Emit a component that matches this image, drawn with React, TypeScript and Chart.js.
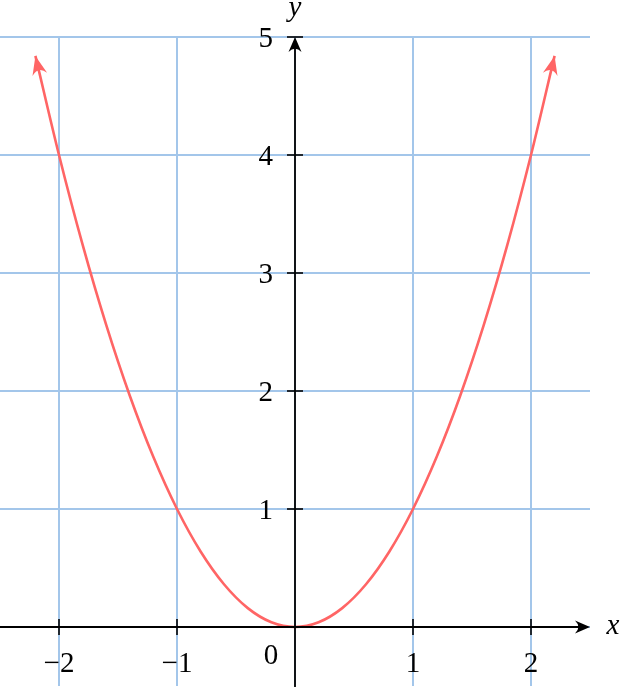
import React, { useEffect, useRef } from "react";
import { Chart, registerables } from "chart.js";

Chart.register(...registerables);

const curveX = [-2.2, -2, -1.8, -1.6, -1.4, -1.2, -1, -0.8, -0.6, -0.4, -0.2, 0, 0.2, 0.4, 0.6, 0.8, 1, 1.2, 1.4, 1.6, 1.8, 2, 2.2];
const curveY = [4.84, 4, 3.24, 2.56, 1.96, 1.44, 1, 0.64, 0.36, 0.16, 0.04, 0, 0.04, 0.16, 0.36, 0.64, 1, 1.44, 1.96, 2.56, 3.24, 4, 4.84];

const xGridValues = [-2, -1, 0, 1, 2];
const yGridValues = [0, 1, 2, 3, 4, 5];
const xTickValues = [-2, -1, 1, 2];
const xTickLabels = ["\u22122", "\u22121", "1", "2"];
const yTickValues = [1, 2, 3, 4, 5];
const yTickLabels = ["1", "2", "3", "4", "5"];
const originLabel = "0";
const xAxisLabel = "x";
const yAxisLabel = "y";

const X_MIN = -2.5, X_MAX = 2.5, Y_MIN = -0.5, Y_MAX = 5;

const GRID = "#a3c6ea";
const CURVE = "#ff6565";
const FONT = '"Liberation Serif", "Times New Roman", serif';

function stealth(ctx: CanvasRenderingContext2D, tx: number, ty: number, ang: number, len: number, half: number, color: string) {
  ctx.save();
  ctx.translate(tx, ty);
  ctx.rotate(ang);
  ctx.fillStyle = color;
  ctx.beginPath();
  ctx.moveTo(0, 0);
  ctx.lineTo(-len, -half);
  ctx.quadraticCurveTo(-len * 0.55, 0, -len, half);
  ctx.closePath();
  ctx.fill();
  ctx.restore();
}

const axesPlugin = {
  id: "axesPlugin",
  afterDatasetsDraw(chart: any) {
    const ctx: CanvasRenderingContext2D = chart.ctx;
    const xs = chart.scales.x, ys = chart.scales.y;
    const x0 = xs.getPixelForValue(0), y0 = ys.getPixelForValue(0);
    const left = xs.getPixelForValue(X_MIN), right = xs.getPixelForValue(X_MAX);
    const top = ys.getPixelForValue(Y_MAX), bottom = ys.getPixelForValue(Y_MIN);

    const meta = chart.getDatasetMeta(0);
    const pts = meta.data;
    if (pts.length > 1) {
      const a = pts[0], b = pts[1];
      stealth(ctx, a.x, a.y, Math.atan2(a.y - b.y, a.x - b.x), 19, 7.5, CURVE);
      const c = pts[pts.length - 1], d = pts[pts.length - 2];
      stealth(ctx, c.x, c.y, Math.atan2(c.y - d.y, c.x - d.x), 19, 7.5, CURVE);
    }

    ctx.save();
    ctx.strokeStyle = "#000";
    ctx.lineWidth = 1.8;
    ctx.lineCap = "butt";
    ctx.beginPath();
    ctx.moveTo(left, y0);
    ctx.lineTo(right - 6, y0);
    ctx.stroke();
    ctx.beginPath();
    ctx.moveTo(x0, bottom + 2);
    ctx.lineTo(x0, top + 6);
    ctx.stroke();
    stealth(ctx, right, y0, 0, 15, 6.5, "#000");
    stealth(ctx, x0, top, -Math.PI / 2, 15, 6.5, "#000");

    ctx.lineWidth = 1.6;
    xTickValues.forEach((v) => {
      const px = xs.getPixelForValue(v);
      ctx.beginPath();
      ctx.moveTo(px, y0 - 8);
      ctx.lineTo(px, y0 + 8);
      ctx.stroke();
    });
    yTickValues.forEach((v) => {
      const py = ys.getPixelForValue(v);
      ctx.beginPath();
      ctx.moveTo(x0 - 8, py);
      ctx.lineTo(x0 + 8, py);
      ctx.stroke();
    });

    ctx.fillStyle = "#000";
    ctx.font = `29px ${FONT}`;
    ctx.textAlign = "center";
    ctx.textBaseline = "alphabetic";
    xTickValues.forEach((v, i) => {
      ctx.fillText(xTickLabels[i], xs.getPixelForValue(v), y0 + 45);
    });
    ctx.textAlign = "right";
    yTickValues.forEach((v, i) => {
      ctx.fillText(yTickLabels[i], x0 - 22, ys.getPixelForValue(v) + 10);
    });
    ctx.textAlign = "center";
    ctx.fillText(originLabel, x0 - 24, y0 + 37);

    ctx.font = `italic 29px ${FONT}`;
    ctx.fillText(xAxisLabel, right + 23, y0 + 7);
    ctx.fillText(yAxisLabel, x0, top - 21);
    ctx.restore();
  },
};

export default function App() {
  const ref = useRef<HTMLCanvasElement | null>(null);
  useEffect(() => {
    if (!ref.current) return;
    const chart = new Chart(ref.current, {
      type: "scatter",
      data: {
        datasets: [
          {
            data: curveX.map((x, i) => ({ x, y: curveY[i] })),
            showLine: true,
            borderColor: CURVE,
            borderWidth: 2.6,
            pointRadius: 0,
            cubicInterpolationMode: "monotone",
            fill: false,
          },
        ],
      },
      options: {
        animation: false,
        responsive: true,
        maintainAspectRatio: false,
        layout: { padding: { left: 0, right: 34, top: 37, bottom: 1 } },
        plugins: { legend: { display: false }, tooltip: { enabled: false } },
        scales: {
          x: {
            type: "linear",
            min: X_MIN,
            max: X_MAX,
            afterBuildTicks: (s: any) => {
              s.ticks = xGridValues.map((v) => ({ value: v }));
            },
            ticks: { display: false },
            border: { display: false },
            grid: { color: GRID, lineWidth: 2, drawTicks: false },
          },
          y: {
            type: "linear",
            min: Y_MIN,
            max: Y_MAX,
            afterBuildTicks: (s: any) => {
              s.ticks = yGridValues.map((v) => ({ value: v }));
            },
            ticks: { display: false },
            border: { display: false },
            grid: { color: GRID, lineWidth: 2, drawTicks: false },
          },
        },
      },
      plugins: [axesPlugin],
    });
    return () => chart.destroy();
  }, []);
  return (
    <div style={{ position: "absolute", left: 0, top: 0, width: 624, height: 687, background: "#fff" }}>
      <canvas ref={ref} />
    </div>
  );
}
